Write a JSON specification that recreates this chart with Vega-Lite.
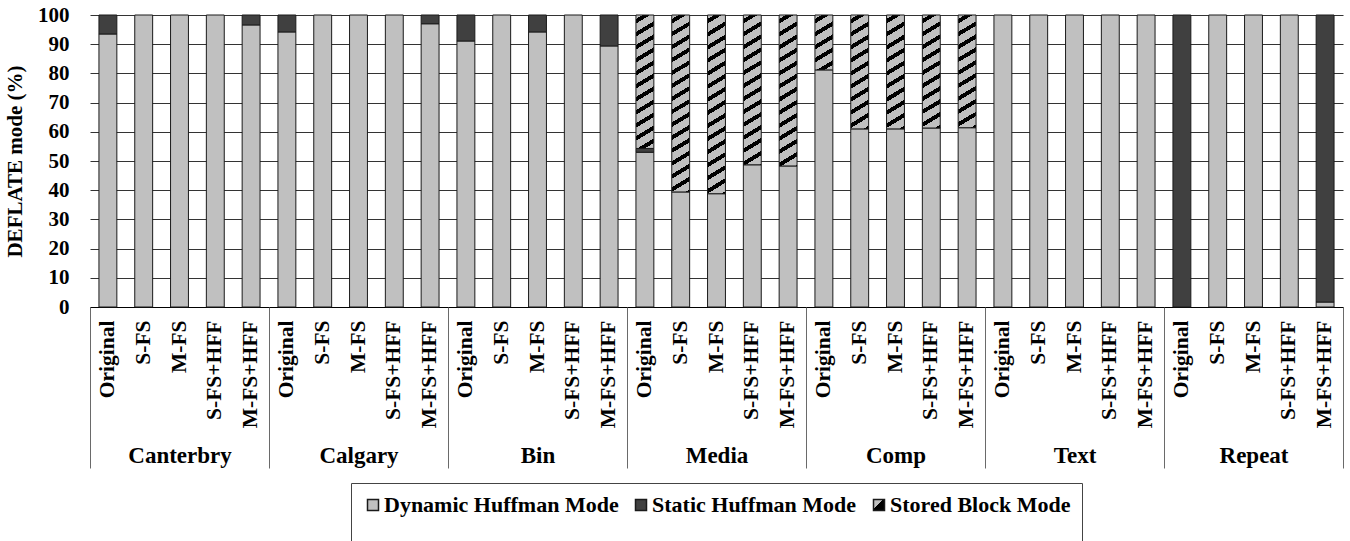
{
  "$schema": "https://vega.github.io/schema/vega-lite/v6.json",
  "width": 1253,
  "height": 292,
  "autosize": {"type": "none"},
  "padding": {"left": 90, "top": 15, "right": 7, "bottom": 234},
  "background": "white",
  "config": {"view": {"stroke": null}, "font": "Liberation Serif"},
  "data": {
    "values": [
      {"g": "Canterbry", "v": "Original", "mode": "Dynamic Huffman Mode", "pct": 93.5},
      {"g": "Canterbry", "v": "Original", "mode": "Static Huffman Mode", "pct": 6.5},
      {"g": "Canterbry", "v": "S-FS", "mode": "Dynamic Huffman Mode", "pct": 100},
      {"g": "Canterbry", "v": "M-FS", "mode": "Dynamic Huffman Mode", "pct": 100},
      {"g": "Canterbry", "v": "S-FS+HFF", "mode": "Dynamic Huffman Mode", "pct": 100},
      {"g": "Canterbry", "v": "M-FS+HFF", "mode": "Dynamic Huffman Mode", "pct": 96.6},
      {"g": "Canterbry", "v": "M-FS+HFF", "mode": "Static Huffman Mode", "pct": 3.4},
      {"g": "Calgary", "v": "Original", "mode": "Dynamic Huffman Mode", "pct": 94.2},
      {"g": "Calgary", "v": "Original", "mode": "Static Huffman Mode", "pct": 5.8},
      {"g": "Calgary", "v": "S-FS", "mode": "Dynamic Huffman Mode", "pct": 100},
      {"g": "Calgary", "v": "M-FS", "mode": "Dynamic Huffman Mode", "pct": 100},
      {"g": "Calgary", "v": "S-FS+HFF", "mode": "Dynamic Huffman Mode", "pct": 100},
      {"g": "Calgary", "v": "M-FS+HFF", "mode": "Dynamic Huffman Mode", "pct": 97.0},
      {"g": "Calgary", "v": "M-FS+HFF", "mode": "Static Huffman Mode", "pct": 3.0},
      {"g": "Bin", "v": "Original", "mode": "Dynamic Huffman Mode", "pct": 91.1},
      {"g": "Bin", "v": "Original", "mode": "Static Huffman Mode", "pct": 8.9},
      {"g": "Bin", "v": "S-FS", "mode": "Dynamic Huffman Mode", "pct": 100},
      {"g": "Bin", "v": "M-FS", "mode": "Dynamic Huffman Mode", "pct": 94.2},
      {"g": "Bin", "v": "M-FS", "mode": "Static Huffman Mode", "pct": 5.8},
      {"g": "Bin", "v": "S-FS+HFF", "mode": "Dynamic Huffman Mode", "pct": 100},
      {"g": "Bin", "v": "M-FS+HFF", "mode": "Dynamic Huffman Mode", "pct": 89.4},
      {"g": "Bin", "v": "M-FS+HFF", "mode": "Static Huffman Mode", "pct": 10.6},
      {"g": "Media", "v": "Original", "mode": "Dynamic Huffman Mode", "pct": 53.0},
      {"g": "Media", "v": "Original", "mode": "Static Huffman Mode", "pct": 1.3},
      {"g": "Media", "v": "Original", "mode": "Stored Block Mode", "pct": 45.7},
      {"g": "Media", "v": "S-FS", "mode": "Dynamic Huffman Mode", "pct": 39.4},
      {"g": "Media", "v": "S-FS", "mode": "Stored Block Mode", "pct": 60.6},
      {"g": "Media", "v": "M-FS", "mode": "Dynamic Huffman Mode", "pct": 38.8},
      {"g": "Media", "v": "M-FS", "mode": "Stored Block Mode", "pct": 61.2},
      {"g": "Media", "v": "S-FS+HFF", "mode": "Dynamic Huffman Mode", "pct": 48.7},
      {"g": "Media", "v": "S-FS+HFF", "mode": "Stored Block Mode", "pct": 51.3},
      {"g": "Media", "v": "M-FS+HFF", "mode": "Dynamic Huffman Mode", "pct": 48.3},
      {"g": "Media", "v": "M-FS+HFF", "mode": "Stored Block Mode", "pct": 51.7},
      {"g": "Comp", "v": "Original", "mode": "Dynamic Huffman Mode", "pct": 81.2},
      {"g": "Comp", "v": "Original", "mode": "Stored Block Mode", "pct": 18.8},
      {"g": "Comp", "v": "S-FS", "mode": "Dynamic Huffman Mode", "pct": 61.0},
      {"g": "Comp", "v": "S-FS", "mode": "Stored Block Mode", "pct": 39.0},
      {"g": "Comp", "v": "M-FS", "mode": "Dynamic Huffman Mode", "pct": 61.0},
      {"g": "Comp", "v": "M-FS", "mode": "Stored Block Mode", "pct": 39.0},
      {"g": "Comp", "v": "S-FS+HFF", "mode": "Dynamic Huffman Mode", "pct": 61.3},
      {"g": "Comp", "v": "S-FS+HFF", "mode": "Stored Block Mode", "pct": 38.7},
      {"g": "Comp", "v": "M-FS+HFF", "mode": "Dynamic Huffman Mode", "pct": 61.4},
      {"g": "Comp", "v": "M-FS+HFF", "mode": "Stored Block Mode", "pct": 38.6},
      {"g": "Text", "v": "Original", "mode": "Dynamic Huffman Mode", "pct": 100},
      {"g": "Text", "v": "S-FS", "mode": "Dynamic Huffman Mode", "pct": 100},
      {"g": "Text", "v": "M-FS", "mode": "Dynamic Huffman Mode", "pct": 100},
      {"g": "Text", "v": "S-FS+HFF", "mode": "Dynamic Huffman Mode", "pct": 100},
      {"g": "Text", "v": "M-FS+HFF", "mode": "Dynamic Huffman Mode", "pct": 100},
      {"g": "Repeat", "v": "Original", "mode": "Static Huffman Mode", "pct": 100},
      {"g": "Repeat", "v": "S-FS", "mode": "Dynamic Huffman Mode", "pct": 100},
      {"g": "Repeat", "v": "M-FS", "mode": "Dynamic Huffman Mode", "pct": 100},
      {"g": "Repeat", "v": "S-FS+HFF", "mode": "Dynamic Huffman Mode", "pct": 100},
      {"g": "Repeat", "v": "M-FS+HFF", "mode": "Dynamic Huffman Mode", "pct": 1.7},
      {"g": "Repeat", "v": "M-FS+HFF", "mode": "Static Huffman Mode", "pct": 98.3}
    ]
  },
  "transform": [{"calculate": "datum.g + '|' + datum.v", "as": "key"}],
  "layer": [
    {
      "mark": {"type": "bar", "stroke": "#1a1a1a", "strokeWidth": 1},
      "encoding": {
        "x": {
          "field": "key", "type": "nominal", "sort": null,
          "scale": {"type": "band", "paddingInner": 0.5, "paddingOuter": 0.25},
          "axis": {
            "orient": "bottom", "title": null,
            "labelExpr": "split(datum.label, '|')[1]",
            "labelAngle": -90, "labelAlign": "right", "labelBaseline": "middle",
            "labelFont": "Liberation Serif", "labelFontWeight": "bold", "labelFontSize": 21.5,
            "labelColor": "#000", "labelPadding": 13, "labelLimit": 300,
            "ticks": false, "tickSize": 0,
            "domain": true, "domainColor": "#000", "domainWidth": 1
          }
        },
        "y": {
          "field": "pct", "type": "quantitative", "stack": "zero",
          "scale": {"domain": [0, 100], "nice": false},
          "axis": {
            "values": [0, 10, 20, 30, 40, 50, 60, 70, 80, 90, 100],
            "title": "DEFLATE mode (%)",
            "titleFont": "Liberation Serif", "titleFontWeight": "bold", "titleFontSize": 21,
            "titleColor": "#000", "titlePadding": 12,
            "labelFont": "Liberation Serif", "labelFontWeight": "bold", "labelFontSize": 21,
            "labelColor": "#000", "labelPadding": 21,
            "ticks": false, "domain": false,
            "grid": true, "gridColor": "#333333", "gridWidth": 1
          }
        },
        "order": {"field": "mode", "type": "nominal", "sort": "ascending"},
        "fill": {
          "field": "mode", "type": "nominal",
          "scale": {
            "domain": ["Dynamic Huffman Mode", "Static Huffman Mode", "Stored Block Mode"],
            "range": [
              "#c0c0c0", "#404040",
              {"expr": "{gradient: 'linear', x1: 0, y1: 0, x2: 1, y2: 1, stops: [{offset: 0, color: '#c0c0c0'}, {offset: 0.42, color: '#c0c0c0'}, {offset: 0.42, color: '#000000'}, {offset: 1, color: '#000000'}]}"}
            ]
          },
          "legend": {
            "title": " ", "titleOrient": "bottom", "titleFontSize": 20, "titlePadding": 10,
            "orient": "none", "legendX": 261, "legendY": 468,
            "direction": "horizontal", "columns": 3,
            "symbolType": "square", "symbolSize": 121,
            "labelFont": "Liberation Serif", "labelFontWeight": "bold", "labelFontSize": 22,
            "labelColor": "#000", "labelLimit": 400, "labelOffset": 0,
            "columnPadding": 11, "padding": 11,
            "strokeColor": "#444", "fillColor": "white",
            "encode": {
              "symbols": {
                "stroke": {"value": "#1a1a1a"},
                "strokeWidth": {"value": 1},
                "opacity": {"value": 1}
              }
            }
          },
          "condition": [
            {"test": "datum.mode === 'Stored Block Mode' && datum.pct < 30",
             "value": {"gradient": "linear", "x1": 0, "y1": 0, "x2": 0.6864, "y2": 3.509, "stops": [{"offset":0.02,"color":"#c0c0c0"},{"offset":0.02,"color":"#000"},{"offset":0.043,"color":"#000"},{"offset":0.043,"color":"#c0c0c0"},{"offset":0.085,"color":"#c0c0c0"},{"offset":0.085,"color":"#000"},{"offset":0.108,"color":"#000"},{"offset":0.108,"color":"#c0c0c0"},{"offset":0.15,"color":"#c0c0c0"},{"offset":0.15,"color":"#000"},{"offset":0.173,"color":"#000"},{"offset":0.173,"color":"#c0c0c0"},{"offset":0.215,"color":"#c0c0c0"},{"offset":0.215,"color":"#000"},{"offset":0.238,"color":"#000"},{"offset":0.238,"color":"#c0c0c0"},{"offset":0.28,"color":"#c0c0c0"},{"offset":0.28,"color":"#000"},{"offset":0.303,"color":"#000"},{"offset":0.303,"color":"#c0c0c0"},{"offset":0.345,"color":"#c0c0c0"},{"offset":0.345,"color":"#000"},{"offset":0.368,"color":"#000"},{"offset":0.368,"color":"#c0c0c0"},{"offset":0.41,"color":"#c0c0c0"},{"offset":0.41,"color":"#000"},{"offset":0.433,"color":"#000"},{"offset":0.433,"color":"#c0c0c0"},{"offset":0.475,"color":"#c0c0c0"},{"offset":0.475,"color":"#000"},{"offset":0.498,"color":"#000"},{"offset":0.498,"color":"#c0c0c0"},{"offset":0.54,"color":"#c0c0c0"},{"offset":0.54,"color":"#000"},{"offset":0.563,"color":"#000"},{"offset":0.563,"color":"#c0c0c0"},{"offset":0.605,"color":"#c0c0c0"},{"offset":0.605,"color":"#000"},{"offset":0.628,"color":"#000"},{"offset":0.628,"color":"#c0c0c0"},{"offset":0.67,"color":"#c0c0c0"},{"offset":0.67,"color":"#000"},{"offset":0.693,"color":"#000"},{"offset":0.693,"color":"#c0c0c0"},{"offset":0.735,"color":"#c0c0c0"},{"offset":0.735,"color":"#000"},{"offset":0.758,"color":"#000"},{"offset":0.758,"color":"#c0c0c0"},{"offset":0.8,"color":"#c0c0c0"},{"offset":0.8,"color":"#000"},{"offset":0.823,"color":"#000"},{"offset":0.823,"color":"#c0c0c0"},{"offset":0.865,"color":"#c0c0c0"},{"offset":0.865,"color":"#000"},{"offset":0.888,"color":"#000"},{"offset":0.888,"color":"#c0c0c0"},{"offset":0.93,"color":"#c0c0c0"},{"offset":0.93,"color":"#000"},{"offset":0.953,"color":"#000"},{"offset":0.953,"color":"#c0c0c0"}]}},
            {"test": "datum.mode === 'Stored Block Mode' && datum.pct < 42",
             "value": {"gradient": "linear", "x1": 0, "y1": 0, "x2": 0.1653, "y2": 1.7465, "stops": [{"offset":0.02,"color":"#c0c0c0"},{"offset":0.02,"color":"#000"},{"offset":0.043,"color":"#000"},{"offset":0.043,"color":"#c0c0c0"},{"offset":0.085,"color":"#c0c0c0"},{"offset":0.085,"color":"#000"},{"offset":0.108,"color":"#000"},{"offset":0.108,"color":"#c0c0c0"},{"offset":0.15,"color":"#c0c0c0"},{"offset":0.15,"color":"#000"},{"offset":0.173,"color":"#000"},{"offset":0.173,"color":"#c0c0c0"},{"offset":0.215,"color":"#c0c0c0"},{"offset":0.215,"color":"#000"},{"offset":0.238,"color":"#000"},{"offset":0.238,"color":"#c0c0c0"},{"offset":0.28,"color":"#c0c0c0"},{"offset":0.28,"color":"#000"},{"offset":0.303,"color":"#000"},{"offset":0.303,"color":"#c0c0c0"},{"offset":0.345,"color":"#c0c0c0"},{"offset":0.345,"color":"#000"},{"offset":0.368,"color":"#000"},{"offset":0.368,"color":"#c0c0c0"},{"offset":0.41,"color":"#c0c0c0"},{"offset":0.41,"color":"#000"},{"offset":0.433,"color":"#000"},{"offset":0.433,"color":"#c0c0c0"},{"offset":0.475,"color":"#c0c0c0"},{"offset":0.475,"color":"#000"},{"offset":0.498,"color":"#000"},{"offset":0.498,"color":"#c0c0c0"},{"offset":0.54,"color":"#c0c0c0"},{"offset":0.54,"color":"#000"},{"offset":0.563,"color":"#000"},{"offset":0.563,"color":"#c0c0c0"},{"offset":0.605,"color":"#c0c0c0"},{"offset":0.605,"color":"#000"},{"offset":0.628,"color":"#000"},{"offset":0.628,"color":"#c0c0c0"},{"offset":0.67,"color":"#c0c0c0"},{"offset":0.67,"color":"#000"},{"offset":0.693,"color":"#000"},{"offset":0.693,"color":"#c0c0c0"},{"offset":0.735,"color":"#c0c0c0"},{"offset":0.735,"color":"#000"},{"offset":0.758,"color":"#000"},{"offset":0.758,"color":"#c0c0c0"},{"offset":0.8,"color":"#c0c0c0"},{"offset":0.8,"color":"#000"},{"offset":0.823,"color":"#000"},{"offset":0.823,"color":"#c0c0c0"},{"offset":0.865,"color":"#c0c0c0"},{"offset":0.865,"color":"#000"},{"offset":0.888,"color":"#000"},{"offset":0.888,"color":"#c0c0c0"},{"offset":0.93,"color":"#c0c0c0"},{"offset":0.93,"color":"#000"},{"offset":0.953,"color":"#000"},{"offset":0.953,"color":"#c0c0c0"}]}},
            {"test": "datum.mode === 'Stored Block Mode' && datum.pct < 48",
             "value": {"gradient": "linear", "x1": 0, "y1": 0, "x2": 0.1199, "y2": 1.4896, "stops": [{"offset":0.02,"color":"#c0c0c0"},{"offset":0.02,"color":"#000"},{"offset":0.043,"color":"#000"},{"offset":0.043,"color":"#c0c0c0"},{"offset":0.085,"color":"#c0c0c0"},{"offset":0.085,"color":"#000"},{"offset":0.108,"color":"#000"},{"offset":0.108,"color":"#c0c0c0"},{"offset":0.15,"color":"#c0c0c0"},{"offset":0.15,"color":"#000"},{"offset":0.173,"color":"#000"},{"offset":0.173,"color":"#c0c0c0"},{"offset":0.215,"color":"#c0c0c0"},{"offset":0.215,"color":"#000"},{"offset":0.238,"color":"#000"},{"offset":0.238,"color":"#c0c0c0"},{"offset":0.28,"color":"#c0c0c0"},{"offset":0.28,"color":"#000"},{"offset":0.303,"color":"#000"},{"offset":0.303,"color":"#c0c0c0"},{"offset":0.345,"color":"#c0c0c0"},{"offset":0.345,"color":"#000"},{"offset":0.368,"color":"#000"},{"offset":0.368,"color":"#c0c0c0"},{"offset":0.41,"color":"#c0c0c0"},{"offset":0.41,"color":"#000"},{"offset":0.433,"color":"#000"},{"offset":0.433,"color":"#c0c0c0"},{"offset":0.475,"color":"#c0c0c0"},{"offset":0.475,"color":"#000"},{"offset":0.498,"color":"#000"},{"offset":0.498,"color":"#c0c0c0"},{"offset":0.54,"color":"#c0c0c0"},{"offset":0.54,"color":"#000"},{"offset":0.563,"color":"#000"},{"offset":0.563,"color":"#c0c0c0"},{"offset":0.605,"color":"#c0c0c0"},{"offset":0.605,"color":"#000"},{"offset":0.628,"color":"#000"},{"offset":0.628,"color":"#c0c0c0"},{"offset":0.67,"color":"#c0c0c0"},{"offset":0.67,"color":"#000"},{"offset":0.693,"color":"#000"},{"offset":0.693,"color":"#c0c0c0"},{"offset":0.735,"color":"#c0c0c0"},{"offset":0.735,"color":"#000"},{"offset":0.758,"color":"#000"},{"offset":0.758,"color":"#c0c0c0"},{"offset":0.8,"color":"#c0c0c0"},{"offset":0.8,"color":"#000"},{"offset":0.823,"color":"#000"},{"offset":0.823,"color":"#c0c0c0"},{"offset":0.865,"color":"#c0c0c0"},{"offset":0.865,"color":"#000"},{"offset":0.888,"color":"#000"},{"offset":0.888,"color":"#c0c0c0"},{"offset":0.93,"color":"#c0c0c0"},{"offset":0.93,"color":"#000"},{"offset":0.953,"color":"#000"},{"offset":0.953,"color":"#c0c0c0"}]}},
            {"test": "datum.mode === 'Stored Block Mode' && datum.pct < 56",
             "value": {"gradient": "linear", "x1": 0, "y1": 0, "x2": 0.0945, "y2": 1.323, "stops": [{"offset":0.02,"color":"#c0c0c0"},{"offset":0.02,"color":"#000"},{"offset":0.043,"color":"#000"},{"offset":0.043,"color":"#c0c0c0"},{"offset":0.085,"color":"#c0c0c0"},{"offset":0.085,"color":"#000"},{"offset":0.108,"color":"#000"},{"offset":0.108,"color":"#c0c0c0"},{"offset":0.15,"color":"#c0c0c0"},{"offset":0.15,"color":"#000"},{"offset":0.173,"color":"#000"},{"offset":0.173,"color":"#c0c0c0"},{"offset":0.215,"color":"#c0c0c0"},{"offset":0.215,"color":"#000"},{"offset":0.238,"color":"#000"},{"offset":0.238,"color":"#c0c0c0"},{"offset":0.28,"color":"#c0c0c0"},{"offset":0.28,"color":"#000"},{"offset":0.303,"color":"#000"},{"offset":0.303,"color":"#c0c0c0"},{"offset":0.345,"color":"#c0c0c0"},{"offset":0.345,"color":"#000"},{"offset":0.368,"color":"#000"},{"offset":0.368,"color":"#c0c0c0"},{"offset":0.41,"color":"#c0c0c0"},{"offset":0.41,"color":"#000"},{"offset":0.433,"color":"#000"},{"offset":0.433,"color":"#c0c0c0"},{"offset":0.475,"color":"#c0c0c0"},{"offset":0.475,"color":"#000"},{"offset":0.498,"color":"#000"},{"offset":0.498,"color":"#c0c0c0"},{"offset":0.54,"color":"#c0c0c0"},{"offset":0.54,"color":"#000"},{"offset":0.563,"color":"#000"},{"offset":0.563,"color":"#c0c0c0"},{"offset":0.605,"color":"#c0c0c0"},{"offset":0.605,"color":"#000"},{"offset":0.628,"color":"#000"},{"offset":0.628,"color":"#c0c0c0"},{"offset":0.67,"color":"#c0c0c0"},{"offset":0.67,"color":"#000"},{"offset":0.693,"color":"#000"},{"offset":0.693,"color":"#c0c0c0"},{"offset":0.735,"color":"#c0c0c0"},{"offset":0.735,"color":"#000"},{"offset":0.758,"color":"#000"},{"offset":0.758,"color":"#c0c0c0"},{"offset":0.8,"color":"#c0c0c0"},{"offset":0.8,"color":"#000"},{"offset":0.823,"color":"#000"},{"offset":0.823,"color":"#c0c0c0"},{"offset":0.865,"color":"#c0c0c0"},{"offset":0.865,"color":"#000"},{"offset":0.888,"color":"#000"},{"offset":0.888,"color":"#c0c0c0"},{"offset":0.93,"color":"#c0c0c0"},{"offset":0.93,"color":"#000"},{"offset":0.953,"color":"#000"},{"offset":0.953,"color":"#c0c0c0"}]}},
            {"test": "datum.mode === 'Stored Block Mode'",
             "value": {"gradient": "linear", "x1": 0, "y1": 0, "x2": 0.0677, "y2": 1.1208, "stops": [{"offset":0.02,"color":"#c0c0c0"},{"offset":0.02,"color":"#000"},{"offset":0.043,"color":"#000"},{"offset":0.043,"color":"#c0c0c0"},{"offset":0.085,"color":"#c0c0c0"},{"offset":0.085,"color":"#000"},{"offset":0.108,"color":"#000"},{"offset":0.108,"color":"#c0c0c0"},{"offset":0.15,"color":"#c0c0c0"},{"offset":0.15,"color":"#000"},{"offset":0.173,"color":"#000"},{"offset":0.173,"color":"#c0c0c0"},{"offset":0.215,"color":"#c0c0c0"},{"offset":0.215,"color":"#000"},{"offset":0.238,"color":"#000"},{"offset":0.238,"color":"#c0c0c0"},{"offset":0.28,"color":"#c0c0c0"},{"offset":0.28,"color":"#000"},{"offset":0.303,"color":"#000"},{"offset":0.303,"color":"#c0c0c0"},{"offset":0.345,"color":"#c0c0c0"},{"offset":0.345,"color":"#000"},{"offset":0.368,"color":"#000"},{"offset":0.368,"color":"#c0c0c0"},{"offset":0.41,"color":"#c0c0c0"},{"offset":0.41,"color":"#000"},{"offset":0.433,"color":"#000"},{"offset":0.433,"color":"#c0c0c0"},{"offset":0.475,"color":"#c0c0c0"},{"offset":0.475,"color":"#000"},{"offset":0.498,"color":"#000"},{"offset":0.498,"color":"#c0c0c0"},{"offset":0.54,"color":"#c0c0c0"},{"offset":0.54,"color":"#000"},{"offset":0.563,"color":"#000"},{"offset":0.563,"color":"#c0c0c0"},{"offset":0.605,"color":"#c0c0c0"},{"offset":0.605,"color":"#000"},{"offset":0.628,"color":"#000"},{"offset":0.628,"color":"#c0c0c0"},{"offset":0.67,"color":"#c0c0c0"},{"offset":0.67,"color":"#000"},{"offset":0.693,"color":"#000"},{"offset":0.693,"color":"#c0c0c0"},{"offset":0.735,"color":"#c0c0c0"},{"offset":0.735,"color":"#000"},{"offset":0.758,"color":"#000"},{"offset":0.758,"color":"#c0c0c0"},{"offset":0.8,"color":"#c0c0c0"},{"offset":0.8,"color":"#000"},{"offset":0.823,"color":"#000"},{"offset":0.823,"color":"#c0c0c0"},{"offset":0.865,"color":"#c0c0c0"},{"offset":0.865,"color":"#000"},{"offset":0.888,"color":"#000"},{"offset":0.888,"color":"#c0c0c0"},{"offset":0.93,"color":"#c0c0c0"},{"offset":0.93,"color":"#000"},{"offset":0.953,"color":"#000"},{"offset":0.953,"color":"#c0c0c0"}]}}
          ]
        }
      }
    },
    {
      "mark": {"type": "rule", "opacity": 0},
      "encoding": {
        "x": {
          "field": "g", "type": "nominal", "sort": null,
          "scale": {"type": "band", "paddingInner": 0, "paddingOuter": 0},
          "axis": {
            "orient": "bottom", "title": null, "domain": false,
            "ticks": true, "tickBand": "extent", "tickSize": 161,
            "tickColor": "#6a6a6a", "tickWidth": 1,
            "labelAngle": 0, "labelAlign": "center", "labelBaseline": "top",
            "labelFont": "Liberation Serif", "labelFontWeight": "bold", "labelFontSize": 23,
            "labelColor": "#000", "labelPadding": -24
          }
        }
      }
    }
  ],
  "resolve": {"scale": {"x": "independent"}, "axis": {"x": "independent"}}
}
